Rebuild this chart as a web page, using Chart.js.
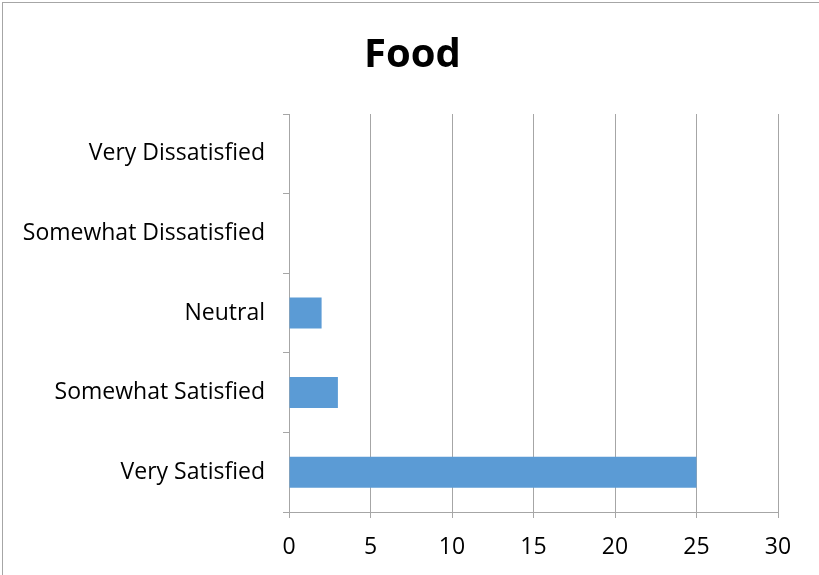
<!DOCTYPE html>
<html lang="en">

<head>
    <meta charset="UTF-8">
    <title>Food</title>
    <script src="https://cdn.jsdelivr.net/npm/chart.js@4.4.1/dist/chart.umd.min.js"></script>
    <style>
        html, body { margin: 0; padding: 0; background: #fff; overflow: hidden; }
        #wrap { position: relative; width: 819px; height: 575px; }
        #frame {
            position: absolute; left: 2px; top: 2px; width: 840px; height: 600px;
            border: 1px solid #a6a6a6; box-sizing: border-box; pointer-events: none;
        }
        canvas { position: absolute; left: 0; top: 0; }
    </style>
</head>

<body>
    <div id="wrap">
        <canvas id="myChart" width="819" height="575"></canvas>
        <div id="frame"></div>
    </div>
    <script>
        const categories = ['Very Dissatisfied', 'Somewhat Dissatisfied', 'Neutral', 'Somewhat Satisfied', 'Very Satisfied']
        const counts = [0, 0, 2, 3, 25]
        const xTicks = [0, 5, 10, 15, 20, 25, 30]

        const gridColor = '#a6a6a6'
        const font = { family: '"Open Sans", sans-serif', size: 23 }

        const data = {
            labels: categories,
            datasets: [{
                label: 'Food',
                backgroundColor: '#5b9bd5',
                borderWidth: 0,
                data: counts,
                barPercentage: 0.39,
                categoryPercentage: 1
            }]
        }

        const config = {
            type: 'bar',
            data,
            options: {
                indexAxis: 'y',
                responsive: false,
                animation: false,
                layout: { padding: { left: 6, right: 0, top: 0, bottom: 0 } },
                plugins: {
                    legend: { display: false },
                    tooltip: { enabled: false },
                    title: {
                        display: true,
                        text: 'Food',
                        color: '#000',
                        font: { family: '"Open Sans", sans-serif', size: 40, weight: 'bold' },
                        padding: { top: 32, bottom: 34 }
                    }
                },
                scales: {
                    x: {
                        type: 'linear',
                        min: xTicks[0],
                        max: xTicks[xTicks.length - 1],
                        afterBuildTicks: s => { s.ticks = xTicks.map(v => ({ value: v })) },
                        afterFit: s => { s.height = 63 },
                        grid: { color: gridColor, tickLength: 6, lineWidth: 1 },
                        border: { color: gridColor },
                        ticks: { color: '#000', font, padding: 16, maxRotation: 0 }
                    },
                    y: {
                        afterFit: s => { s.width = 283 },
                        grid: { color: gridColor, drawOnChartArea: false, tickLength: 6, offset: true },
                        border: { color: gridColor },
                        ticks: { color: '#000', font, padding: 18 }
                    },
                    // empty right-hand axis: keeps room right of the plot without shifting the title
                    yRight: {
                        type: 'category',
                        position: 'right',
                        afterFit: s => { s.width = 41 },
                        grid: { display: false },
                        border: { display: false },
                        ticks: { display: false }
                    }
                }
            }
        }

        var myChart = new Chart(document.getElementById('myChart'), config)
    </script>
</body>

</html>
